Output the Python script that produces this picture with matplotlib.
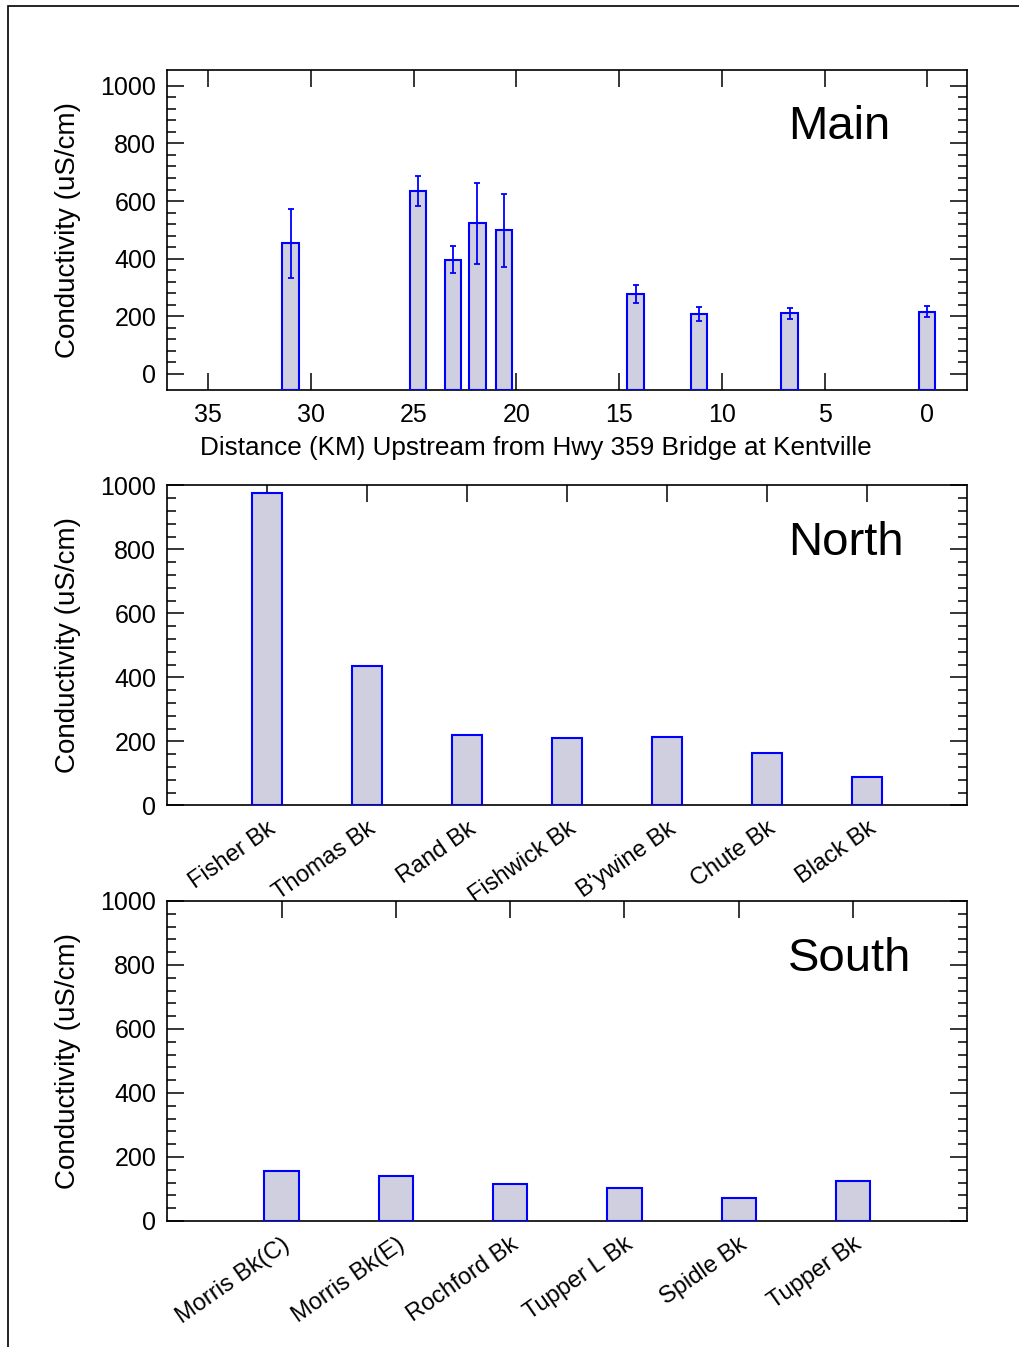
import matplotlib.pyplot as plt
import numpy as np
from matplotlib.patches import Rectangle

plt.rcParams['font.family'] = ['Liberation Sans', 'DejaVu Sans']

# Main stem: distance upstream (km), mean conductivity and error
main_km = [31.0, 24.8, 23.1, 21.9, 20.6, 14.2, 11.1, 6.7, 0.0]
main_val = [453, 635, 396, 523, 499, 278, 207, 210, 216]
main_err = [120, 52, 47, 140, 127, 32, 24, 18, 19]
main_xticks = [35, 30, 25, 20, 15, 10, 5, 0]

north_names = ['Fisher Bk', 'Thomas Bk', 'Rand Bk', 'Fishwick Bk', "B'ywine Bk", 'Chute Bk', 'Black Bk']
north_val = [975, 434, 220, 210, 215, 164, 89]

south_names = ['Morris Bk(C)', 'Morris Bk(E)', 'Rochford Bk', 'Tupper L Bk', 'Spidle Bk', 'Tupper Bk']
south_val = [157, 141, 117, 102, 72, 125]

yticks = [0, 200, 400, 600, 800, 1000]
ylabel = 'Conductivity (uS/cm)'

FILL = '#d0cfe0'
EDGE = '#0000ff'


def style_axes(ax):
    for s in ax.spines.values():
        s.set_linewidth(1.2)
    ax.set_yticks(yticks)
    ax.set_yticks(np.arange(0, 1001, 40), minor=True)
    ax.tick_params(axis='y', which='both', direction='in', left=True, right=True,
                   labelsize=18, pad=8)
    ax.tick_params(axis='y', which='major', length=12, width=1.1)
    ax.tick_params(axis='y', which='minor', length=6.5, width=1.1)
    ax.tick_params(axis='x', which='major', direction='in', top=True, bottom=True,
                   length=12, width=1.1)
    ax.set_ylabel(ylabel, fontsize=20)
    ax.yaxis.set_label_coords(-0.108, 0.5)


def main():
    fig = plt.figure(figsize=(10.19, 13.47), dpi=100)
    left, width, height = 167.3 / 1019, 800 / 1019, 320 / 1347

    # outer frame
    fig.patches.append(Rectangle((8 / 1019, -0.05), 1.1, 1 - 5.5 / 1347 + 0.05,
                                 transform=fig.transFigure, fill=False,
                                 edgecolor='black', linewidth=1.2))

    # Main: bars rise from the bottom of the axis
    ymin = -56
    ax_m = fig.add_axes([left, 1 - 390 / 1347, width, height])
    ax_m.bar(main_km, np.array(main_val) - ymin, bottom=ymin, width=0.8, color=FILL,
             edgecolor=EDGE, linewidth=1.5, zorder=3)
    ax_m.errorbar(main_km, main_val, yerr=main_err, fmt='none', ecolor=EDGE,
                  elinewidth=1.3, capsize=2.2, capthick=1.3, zorder=4)
    ax_m.set_xlim(37, -1.95)
    ax_m.set_ylim(ymin, 1055)
    ax_m.set_xticks(main_xticks)
    style_axes(ax_m)
    ax_m.tick_params(axis='x', labelsize=18, pad=9)
    ax_m.set_xlabel('Distance (KM) Upstream from Hwy 359 Bridge at Kentville', fontsize=18.8)
    ax_m.xaxis.set_label_coords(0.461, -0.145)
    ax_m.text(0.776, 0.785, 'Main', transform=ax_m.transAxes, fontsize=34)

    # North and South
    panels = [
        (1 - 805.3 / 1347, north_names, north_val, 'North'),
        (1 - 1221 / 1347, south_names, south_val, 'South'),
    ]
    for bottom, names, vals, title in panels:
        ax = fig.add_axes([left, bottom, width, height])
        x = np.arange(1, len(names) + 1)
        ax.bar(x, vals, width=0.3, color=FILL, edgecolor=EDGE, linewidth=1.5, zorder=3)
        ax.set_xlim(0, len(names) + 1)
        ax.set_ylim(0, 1000)
        ax.set_xticks(x)
        style_axes(ax)
        ax.tick_params(axis='x', pad=9)
        ax.set_xticklabels(names, fontsize=17, rotation=35, ha='right', va='top',
                           rotation_mode='anchor')
        ax.text(0.776, 0.782, title, transform=ax.transAxes, fontsize=34)

    fig.savefig('out.png', dpi=100)


if __name__ == '__main__':
    main()
